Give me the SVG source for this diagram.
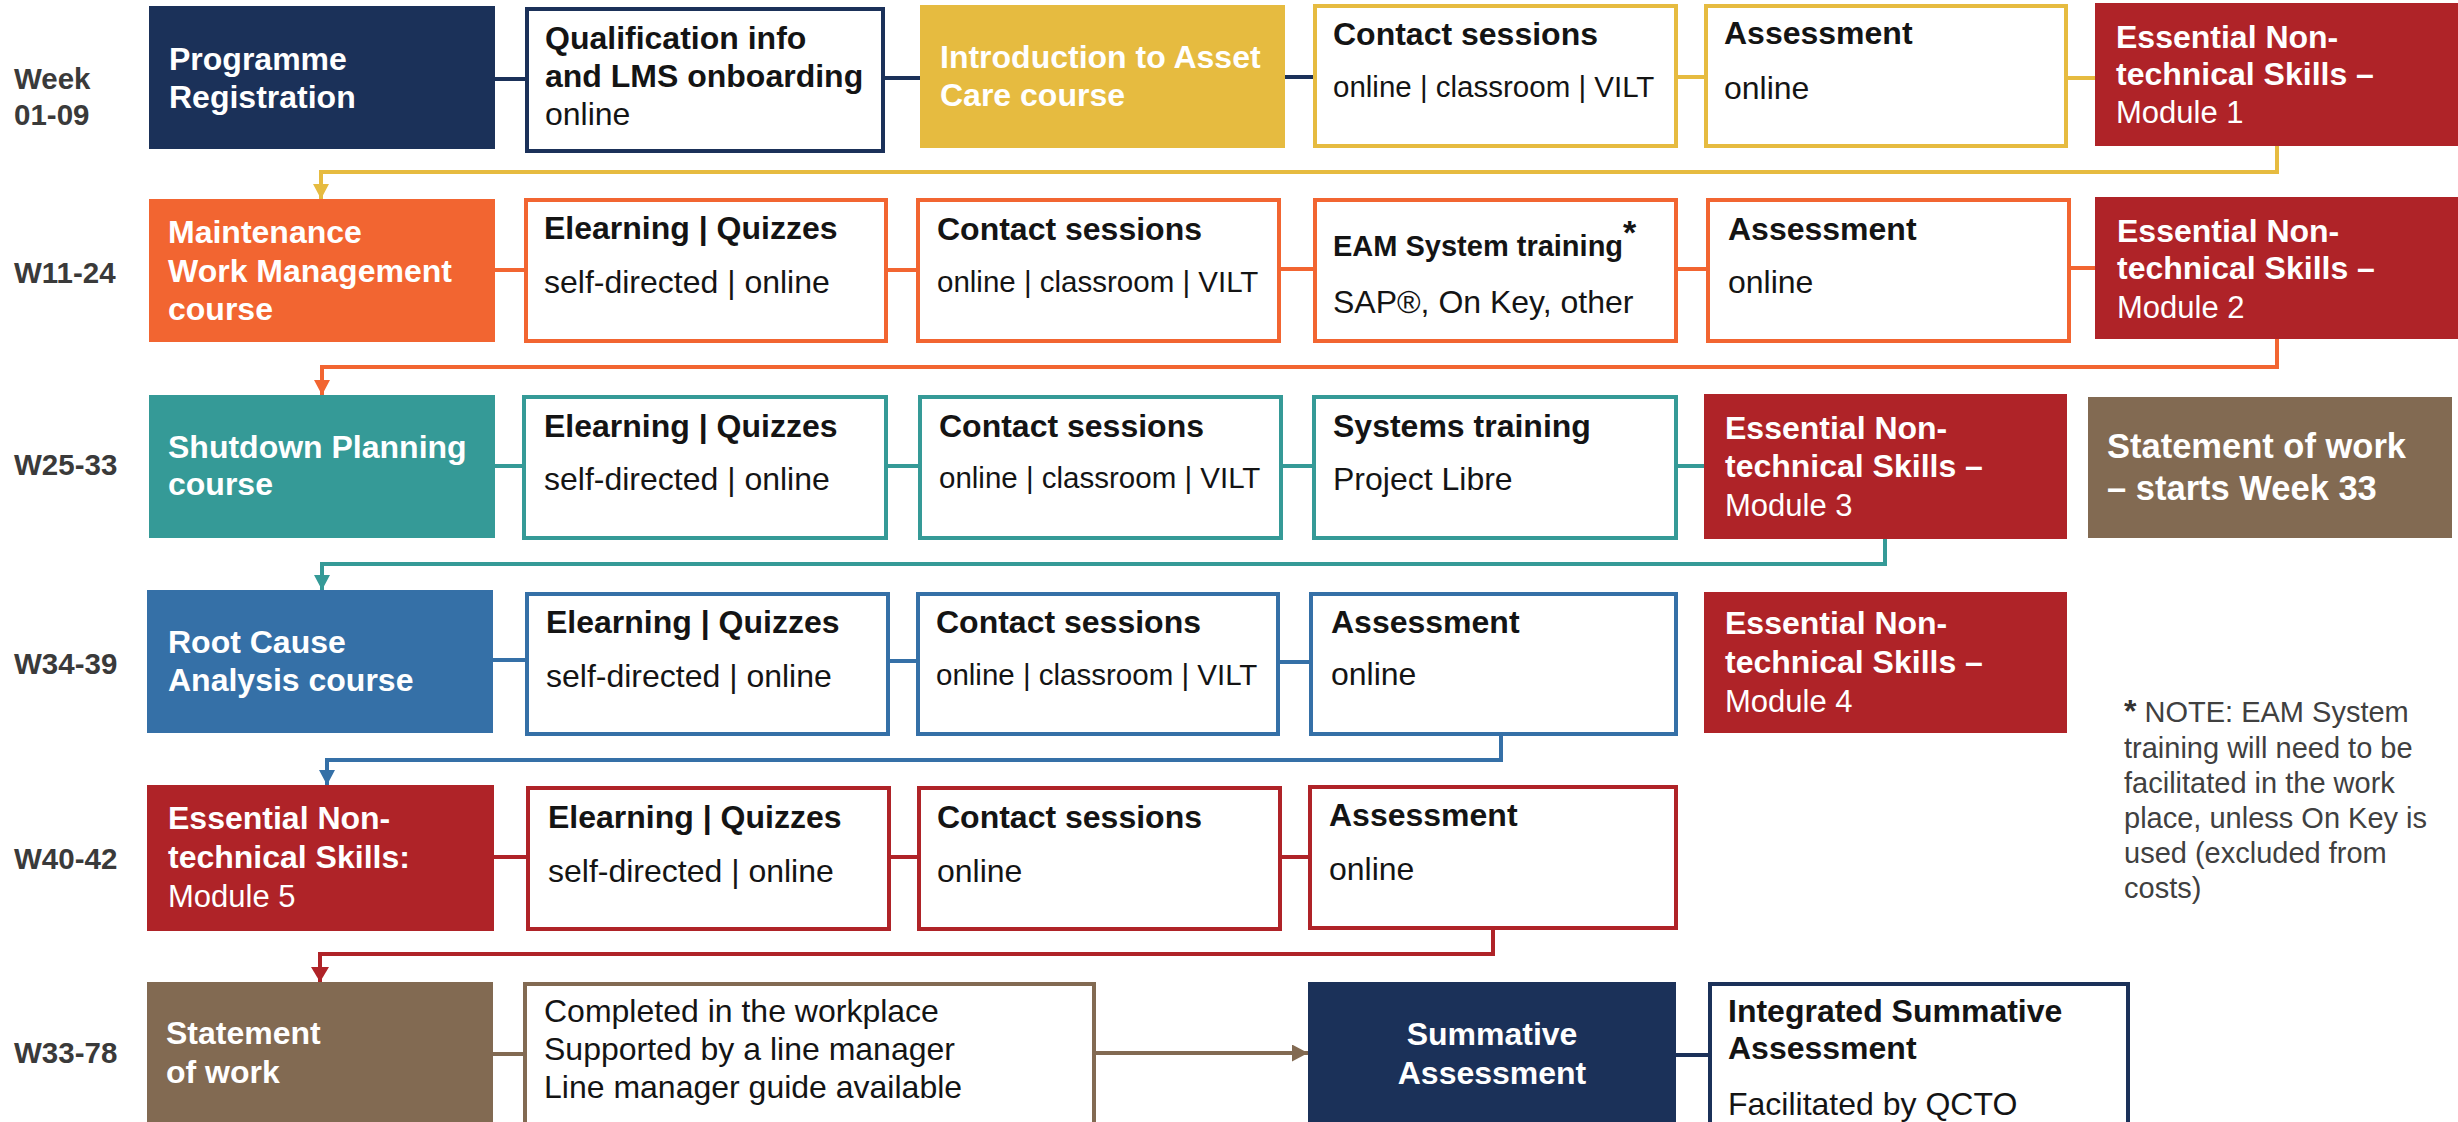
<svg xmlns="http://www.w3.org/2000/svg" width="2458" height="1122" viewBox="0 0 2458 1122">
<style>
text{font-family:"Liberation Sans",Arial,Helvetica,sans-serif}
.wk{font-weight:bold;font-size:29.5px;fill:#3a3a3a}
.hb{font-weight:bold;font-size:32px;fill:#fff}
.hr{font-size:31px;fill:#fff}
.tb{font-weight:bold;font-size:32px;fill:#141414}
.tr{font-size:32px;fill:#141414}
.mix{font-size:29.5px}
.note{font-size:29px;fill:#404040}
.wb{fill:#fff;stroke-width:4}
.c{fill:none;stroke-width:4}
.navyF{fill:#1B3159}.yelF{fill:#E6BB40}.orgF{fill:#F26531}.tealF{fill:#359A97}.bluF{fill:#3570A7}.redF{fill:#AF2328}.brnF{fill:#826A52}
.navyS{stroke:#1B3159}.yelS{stroke:#E6BB40}.orgS{stroke:#F26531}.tealS{stroke:#359A97}.bluS{stroke:#3570A7}.redS{stroke:#AF2328}.brnS{stroke:#826A52}
</style>
<defs>
<marker id="aY" markerUnits="userSpaceOnUse" markerWidth="16" markerHeight="16" refX="15" refY="8" orient="auto"><path d="M0,0 L15,8 L0,16 z" fill="#E6BB40"/></marker>
<marker id="aO" markerUnits="userSpaceOnUse" markerWidth="16" markerHeight="16" refX="15" refY="8" orient="auto"><path d="M0,0 L15,8 L0,16 z" fill="#F26531"/></marker>
<marker id="aT" markerUnits="userSpaceOnUse" markerWidth="16" markerHeight="16" refX="15" refY="8" orient="auto"><path d="M0,0 L15,8 L0,16 z" fill="#359A97"/></marker>
<marker id="aB" markerUnits="userSpaceOnUse" markerWidth="16" markerHeight="16" refX="15" refY="8" orient="auto"><path d="M0,0 L15,8 L0,16 z" fill="#3570A7"/></marker>
<marker id="aR" markerUnits="userSpaceOnUse" markerWidth="18" markerHeight="18" refX="15" refY="9" orient="auto"><path d="M0,0 L15,9 L0,18 z" fill="#AF2328"/></marker>
<marker id="aN" markerUnits="userSpaceOnUse" markerWidth="17" markerHeight="17" refX="16" refY="8.5" orient="auto"><path d="M0,0 L16,8.5 L0,17 z" fill="#826A52"/></marker>
</defs>
<rect x="0" y="0" width="2458" height="1122" fill="#fff"/>

<g id="connectors">
  <line class="c navyS" x1="495" y1="79" x2="527" y2="79"/>
  <line class="c navyS" x1="883" y1="78" x2="920" y2="78"/>
  <line class="c navyS" x1="1285" y1="77" x2="1315" y2="77"/>
  <line class="c yelS" x1="1676" y1="77" x2="1706" y2="77"/>
  <line class="c yelS" x1="2066" y1="78" x2="2095" y2="78"/>
  <polyline class="c yelS" points="2277,146 2277,172 321,172 321,199" marker-end="url(#aY)"/>
  <line class="c orgS" x1="495" y1="270" x2="526" y2="270"/>
  <line class="c orgS" x1="886" y1="270" x2="918" y2="270"/>
  <line class="c orgS" x1="1279" y1="269" x2="1315" y2="269"/>
  <line class="c orgS" x1="1676" y1="269" x2="1708" y2="269"/>
  <line class="c orgS" x1="2069" y1="268" x2="2095" y2="268"/>
  <polyline class="c orgS" points="2277,339 2277,367 322,367 322,395" marker-end="url(#aO)"/>
  <line class="c tealS" x1="495" y1="466" x2="524" y2="466"/>
  <line class="c tealS" x1="886" y1="466" x2="920" y2="466"/>
  <line class="c tealS" x1="1281" y1="466" x2="1314" y2="466"/>
  <line class="c tealS" x1="1676" y1="466" x2="1704" y2="466"/>
  <polyline class="c tealS" points="1885,539 1885,564 322,564 322,590" marker-end="url(#aT)"/>
  <line class="c bluS" x1="493" y1="660" x2="527" y2="660"/>
  <line class="c bluS" x1="888" y1="661" x2="918" y2="661"/>
  <line class="c bluS" x1="1278" y1="662" x2="1311" y2="662"/>
  <polyline class="c bluS" points="1501,734 1501,760 327,760 327,785" marker-end="url(#aB)"/>
  <line class="c redS" x1="494" y1="857" x2="528" y2="857"/>
  <line class="c redS" x1="889" y1="857" x2="919" y2="857"/>
  <line class="c redS" x1="1280" y1="857" x2="1310" y2="857"/>
  <polyline class="c redS" points="1493,928 1493,954 320,954 320,982" marker-end="url(#aR)"/>
  <line class="c brnS" x1="493" y1="1054" x2="525" y2="1054"/>
  <line class="c brnS" x1="1094" y1="1053" x2="1308" y2="1053" marker-end="url(#aN)"/>
  <line class="c navyS" x1="1676" y1="1055" x2="1710" y2="1055"/>
</g>

<g id="week-labels">
  <text class="wk" x="14" y="89">Week</text>
  <text class="wk" x="14" y="125">01-09</text>
  <text class="wk" x="14" y="283">W11-24</text>
  <text class="wk" x="14" y="475">W25-33</text>
  <text class="wk" x="14" y="674">W34-39</text>
  <text class="wk" x="14" y="869">W40-42</text>
  <text class="wk" x="14" y="1063">W33-78</text>
</g>

<g id="programme-registration">
  <rect class="navyF" x="149" y="6" width="346" height="143"/>
  <text class="hb" x="169" y="70">Programme</text>
  <text class="hb" x="169" y="108">Registration</text>
</g>
<g id="qualification-info">
  <rect class="wb navyS" x="527" y="9" width="356" height="142"/>
  <text class="tb" x="545" y="49">Qualification info</text>
  <text class="tb" x="545" y="87">and LMS onboarding</text>
  <text class="tr" x="545" y="125">online</text>
</g>
<g id="intro-asset-care">
  <rect class="yelF" x="920" y="5" width="365" height="143"/>
  <text class="hb" x="940" y="68">Introduction to Asset</text>
  <text class="hb" x="940" y="106">Care course</text>
</g>
<g id="r1-contact">
  <rect class="wb yelS" x="1315" y="6" width="361" height="140"/>
  <text class="tb" x="1333" y="45">Contact sessions</text>
  <text class="tr mix" x="1333" y="97">online | classroom | VILT</text>
</g>
<g id="r1-assessment">
  <rect class="wb yelS" x="1706" y="6" width="360" height="140"/>
  <text class="tb" x="1724" y="44">Assessment</text>
  <text class="tr" x="1724" y="99">online</text>
</g>
<g id="ents-module-1">
  <rect class="redF" x="2095" y="3" width="363" height="143"/>
  <text class="hb" x="2116" y="48">Essential Non-</text>
  <text class="hb" x="2116" y="85">technical Skills –</text>
  <text class="hr" x="2116" y="123">Module 1</text>
</g>

<g id="maintenance-work-management">
  <rect class="orgF" x="149" y="199" width="346" height="143"/>
  <text class="hb" x="168" y="243">Maintenance</text>
  <text class="hb" x="168" y="282">Work Management</text>
  <text class="hb" x="168" y="320">course</text>
</g>
<g id="r2-elearning">
  <rect class="wb orgS" x="526" y="200" width="360" height="141"/>
  <text class="tb" x="544" y="239">Elearning | Quizzes</text>
  <text class="tr" x="544" y="293">self-directed | online</text>
</g>
<g id="r2-contact">
  <rect class="wb orgS" x="918" y="200" width="361" height="141"/>
  <text class="tb" x="937" y="240">Contact sessions</text>
  <text class="tr mix" x="937" y="292">online | classroom | VILT</text>
</g>
<g id="r2-eam">
  <rect class="wb orgS" x="1315" y="200" width="361" height="141"/>
  <text class="tb" x="1333" y="256" style="font-size:29px">EAM System training<tspan dy="-12" style="font-size:34px">*</tspan></text>
  <text class="tr" x="1333" y="313">SAP®, On Key, other</text>
</g>
<g id="r2-assessment">
  <rect class="wb orgS" x="1708" y="200" width="361" height="141"/>
  <text class="tb" x="1728" y="240">Assessment</text>
  <text class="tr" x="1728" y="293">online</text>
</g>
<g id="ents-module-2">
  <rect class="redF" x="2095" y="197" width="363" height="142"/>
  <text class="hb" x="2117" y="242">Essential Non-</text>
  <text class="hb" x="2117" y="279">technical Skills –</text>
  <text class="hr" x="2117" y="318">Module 2</text>
</g>

<g id="shutdown-planning">
  <rect class="tealF" x="149" y="395" width="346" height="143"/>
  <text class="hb" x="168" y="458">Shutdown Planning</text>
  <text class="hb" x="168" y="495">course</text>
</g>
<g id="r3-elearning">
  <rect class="wb tealS" x="524" y="397" width="362" height="141"/>
  <text class="tb" x="544" y="437">Elearning | Quizzes</text>
  <text class="tr" x="544" y="490">self-directed | online</text>
</g>
<g id="r3-contact">
  <rect class="wb tealS" x="920" y="397" width="361" height="141"/>
  <text class="tb" x="939" y="437">Contact sessions</text>
  <text class="tr mix" x="939" y="488">online | classroom | VILT</text>
</g>
<g id="r3-systems">
  <rect class="wb tealS" x="1314" y="397" width="362" height="141"/>
  <text class="tb" x="1333" y="437">Systems training</text>
  <text class="tr" x="1333" y="490">Project Libre</text>
</g>
<g id="ents-module-3">
  <rect class="redF" x="1704" y="394" width="363" height="145"/>
  <text class="hb" x="1725" y="439">Essential Non-</text>
  <text class="hb" x="1725" y="477">technical Skills –</text>
  <text class="hr" x="1725" y="516">Module 3</text>
</g>
<g id="statement-of-work-starts">
  <rect class="brnF" x="2088" y="397" width="364" height="141"/>
  <text class="hb" x="2107" y="458" style="font-size:34.5px">Statement of work</text>
  <text class="hb" x="2107" y="500" style="font-size:34.5px">– starts Week 33</text>
</g>

<g id="root-cause-analysis">
  <rect class="bluF" x="147" y="590" width="346" height="143"/>
  <text class="hb" x="168" y="653">Root Cause</text>
  <text class="hb" x="168" y="691">Analysis course</text>
</g>
<g id="r4-elearning">
  <rect class="wb bluS" x="527" y="594" width="361" height="140"/>
  <text class="tb" x="546" y="633">Elearning | Quizzes</text>
  <text class="tr" x="546" y="687">self-directed | online</text>
</g>
<g id="r4-contact">
  <rect class="wb bluS" x="918" y="594" width="360" height="140"/>
  <text class="tb" x="936" y="633">Contact sessions</text>
  <text class="tr mix" x="936" y="685">online | classroom | VILT</text>
</g>
<g id="r4-assessment">
  <rect class="wb bluS" x="1311" y="594" width="365" height="140"/>
  <text class="tb" x="1331" y="633">Assessment</text>
  <text class="tr" x="1331" y="685">online</text>
</g>
<g id="ents-module-4">
  <rect class="redF" x="1704" y="592" width="363" height="141"/>
  <text class="hb" x="1725" y="634">Essential Non-</text>
  <text class="hb" x="1725" y="673">technical Skills –</text>
  <text class="hr" x="1725" y="712">Module 4</text>
</g>

<g id="ents-module-5">
  <rect class="redF" x="147" y="785" width="347" height="146"/>
  <text class="hb" x="168" y="829">Essential Non-</text>
  <text class="hb" x="168" y="868">technical Skills:</text>
  <text class="hr" x="168" y="907">Module 5</text>
</g>
<g id="r5-elearning">
  <rect class="wb redS" x="528" y="788" width="361" height="141"/>
  <text class="tb" x="548" y="828">Elearning | Quizzes</text>
  <text class="tr" x="548" y="882">self-directed | online</text>
</g>
<g id="r5-contact">
  <rect class="wb redS" x="919" y="788" width="361" height="141"/>
  <text class="tb" x="937" y="828">Contact sessions</text>
  <text class="tr" x="937" y="882">online</text>
</g>
<g id="r5-assessment">
  <rect class="wb redS" x="1310" y="787" width="366" height="141"/>
  <text class="tb" x="1329" y="826">Assessment</text>
  <text class="tr" x="1329" y="880">online</text>
</g>

<g id="statement-of-work">
  <rect class="brnF" x="147" y="982" width="346" height="143"/>
  <text class="hb" x="166" y="1044">Statement</text>
  <text class="hb" x="166" y="1083">of work</text>
</g>
<g id="workplace">
  <rect class="wb brnS" x="525" y="984" width="569" height="143"/>
  <text class="tr" x="544" y="1022">Completed in the workplace</text>
  <text class="tr" x="544" y="1060">Supported by a line manager</text>
  <text class="tr" x="544" y="1098">Line manager guide available</text>
</g>
<g id="summative-assessment">
  <rect class="navyF" x="1308" y="982" width="368" height="143"/>
  <text class="hb" x="1492" y="1045" text-anchor="middle">Summative</text>
  <text class="hb" x="1492" y="1084" text-anchor="middle">Assessment</text>
</g>
<g id="integrated-summative">
  <rect class="wb navyS" x="1710" y="984" width="418" height="143"/>
  <text class="tb" x="1728" y="1022">Integrated Summative</text>
  <text class="tb" x="1728" y="1059">Assessment</text>
  <text class="tr" x="1728" y="1115">Facilitated by QCTO</text>
</g>

<g id="note">
  <text class="note" x="2124" y="722"><tspan font-weight="bold" fill="#333" style="font-size:32px">*</tspan> NOTE: EAM System</text>
  <text class="note" x="2124" y="758">training will need to be</text>
  <text class="note" x="2124" y="793">facilitated in the work</text>
  <text class="note" x="2124" y="828">place, unless On Key is</text>
  <text class="note" x="2124" y="863">used (excluded from</text>
  <text class="note" x="2124" y="898">costs)</text>
</g>
</svg>
